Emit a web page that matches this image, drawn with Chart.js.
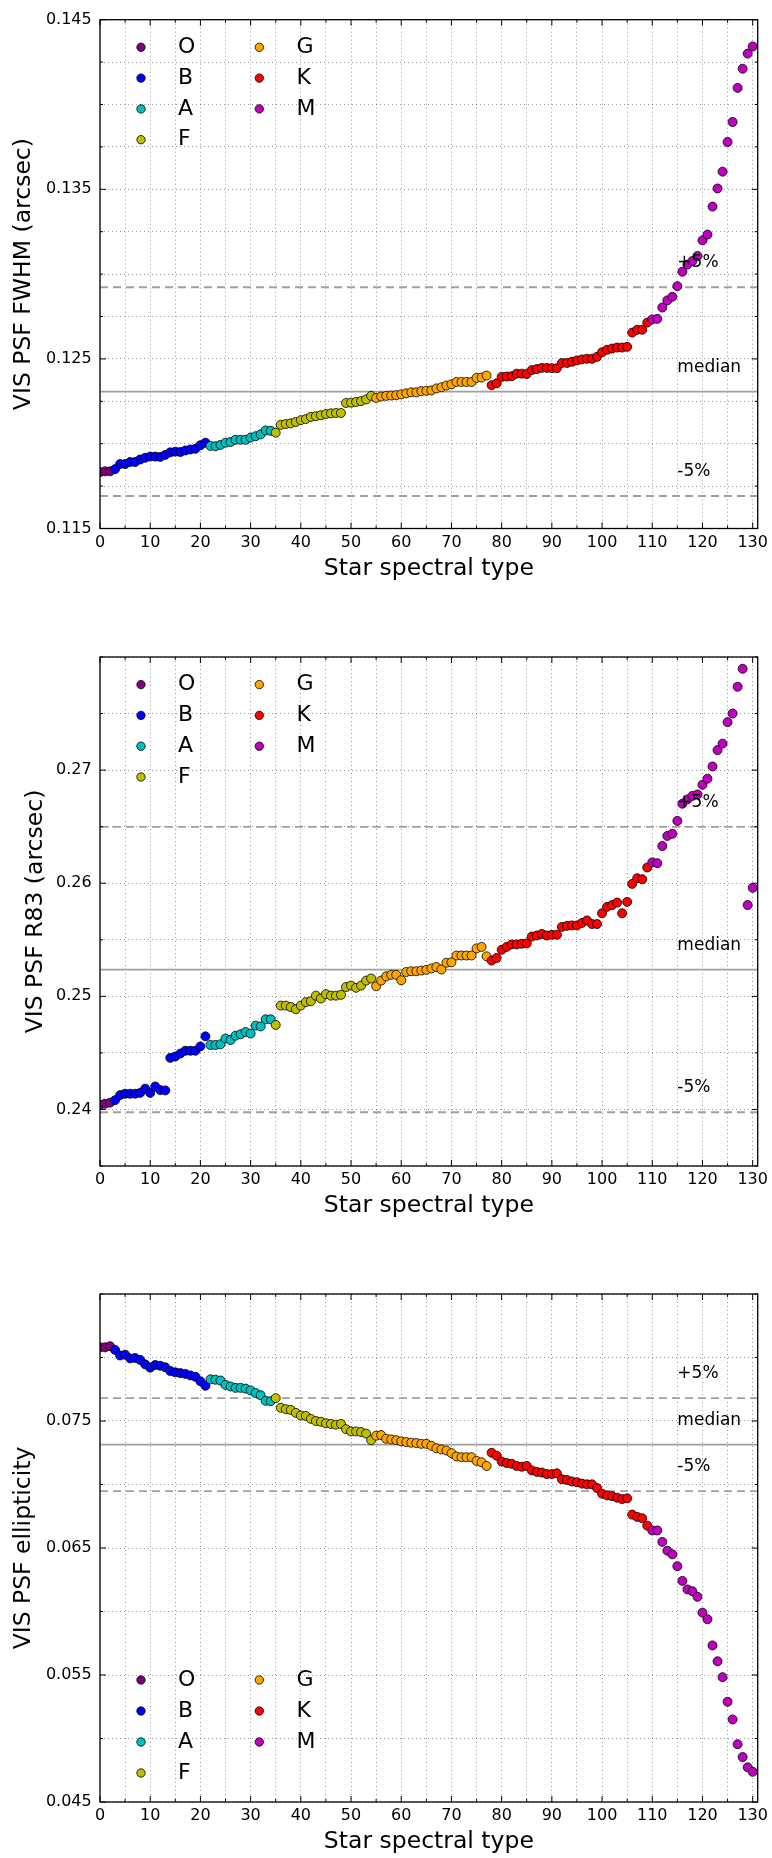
<!DOCTYPE html>
<html><head><meta charset="utf-8">
<script src="https://cdn.jsdelivr.net/npm/chart.js@4.4.1/dist/chart.umd.min.js"></script>
<style>
html,body{margin:0;padding:0;background:#fff;}
#wrap{position:relative;width:772px;height:1858px;background:#fff;}
canvas{position:absolute;left:0;}
</style></head><body>
<div id="wrap">
<canvas id="c1" width="772" height="620" style="top:0px;width:772px;height:620px"></canvas>
<canvas id="c2" width="772" height="620" style="top:620px;width:772px;height:620px"></canvas>
<canvas id="c3" width="772" height="618" style="top:1240px;width:772px;height:618px"></canvas>
</div>
<script>
// ---------- data ----------
const classNames = ['O','B','A','F','G','K','M'];
const classColors = ['#800080','#0000ff','#00bfbf','#bfbf00','#ffa500','#ff0000','#bf00bf'];
const classCounts = [3,19,13,20,23,32,21];
const xTickLabels = ['0','10','20','30','40','50','60','70','80','90','100','110','120','130'];
const xTitle = 'Star spectral type';
const lineLabels = ['+5%','median','-5%'];

const fwhm = [
 0.11833,0.11837,0.11837,
 0.11850,0.11880,0.11880,0.11892,0.11892,0.11907,0.11917,0.11924,0.11924,0.11922,0.11934,0.11949,0.11953,0.11951,0.11960,0.11966,0.11970,0.11991,0.12006,
 0.11987,0.11985,0.11993,0.12006,0.12010,0.12023,0.12023,0.12023,0.12036,0.12044,0.12055,0.12078,0.12076,
 0.12065,0.12111,0.12116,0.12120,0.12128,0.12139,0.12145,0.12158,0.12162,0.12168,0.12175,0.12179,0.12181,0.12181,0.12240,0.12242,0.12246,0.12251,0.12261,0.12282,
 0.12270,0.12278,0.12282,0.12284,0.12286,0.12291,0.12297,0.12303,0.12303,0.12310,0.12312,0.12314,0.12326,0.12333,0.12343,0.12350,0.12364,0.12364,0.12364,0.12364,0.12388,0.12390,0.12402,
 0.12345,0.12356,0.12394,0.12396,0.12398,0.12413,0.12413,0.12411,0.12434,0.12440,0.12447,0.12447,0.12445,0.12445,0.12476,0.12476,0.12483,0.12491,0.12497,0.12501,0.12501,0.12512,0.12539,0.12554,0.12561,0.12567,0.12567,0.12571,0.12655,0.12672,0.12672,0.12714,
 0.12733,0.12736,0.12803,0.12845,0.12866,0.12929,0.13014,0.13056,0.13077,0.13107,0.13199,0.13233,0.13398,0.13505,0.13604,0.13779,0.13897,0.14098,0.14211,0.14300,0.14342
];
const r83 = [
 0.24041,0.24051,0.24060,
 0.24082,0.24127,0.24139,0.24139,0.24139,0.24146,0.24184,0.24146,0.24203,0.24171,0.24168,0.24456,0.24468,0.24494,0.24519,0.24519,0.24519,0.24557,0.24646,
 0.24570,0.24570,0.24576,0.24627,0.24614,0.24652,0.24665,0.24684,0.24671,0.24741,0.24734,0.24797,0.24797,
 0.24747,0.24918,0.24918,0.24905,0.24886,0.24918,0.24949,0.24956,0.25006,0.24981,0.25019,0.25006,0.25006,0.25013,0.25082,0.25095,0.25076,0.25095,0.25139,0.25158,
 0.25089,0.25139,0.25177,0.25190,0.25190,0.25142,0.25215,0.25222,0.25222,0.25228,0.25234,0.25247,0.25259,0.25237,0.25297,0.25301,0.25361,0.25361,0.25361,0.25361,0.25424,0.25437,0.25354,
 0.25316,0.25339,0.25411,0.25437,0.25459,0.25459,0.25465,0.25468,0.25528,0.25538,0.25551,0.25538,0.25544,0.25544,0.25614,0.25623,0.25627,0.25627,0.25649,0.25671,0.25639,0.25639,0.25734,0.25791,0.25807,0.25829,0.25734,0.25835,0.25994,0.26044,0.26035,0.26139,
 0.26184,0.26177,0.26329,0.26418,0.26437,0.26551,0.26703,0.26741,0.26772,0.26785,0.26870,0.26924,0.27032,0.27177,0.27234,0.27424,0.27500,0.27737,0.27896,0.25807,0.25959
];
const ellip = [
 0.08080,0.08080,0.08089,
 0.08060,0.08016,0.08022,0.07993,0.07996,0.07981,0.07946,0.07920,0.07941,0.07935,0.07923,0.07894,0.07883,0.07877,0.07871,0.07859,0.07848,0.07813,0.07778,
 0.07828,0.07825,0.07819,0.07784,0.07772,0.07761,0.07761,0.07755,0.07741,0.07720,0.07703,0.07659,0.07656,
 0.07680,0.07604,0.07593,0.07587,0.07564,0.07543,0.07540,0.07517,0.07500,0.07494,0.07482,0.07477,0.07471,0.07477,0.07436,0.07418,0.07418,0.07413,0.07401,0.07349,
 0.07384,0.07389,0.07360,0.07355,0.07349,0.07340,0.07334,0.07329,0.07326,0.07320,0.07320,0.07305,0.07285,0.07276,0.07268,0.07247,0.07221,0.07215,0.07215,0.07215,0.07186,0.07175,0.07146,
 0.07250,0.07227,0.07181,0.07169,0.07163,0.07146,0.07140,0.07146,0.07111,0.07099,0.07094,0.07082,0.07082,0.07088,0.07041,0.07036,0.07024,0.07018,0.07007,0.07001,0.07001,0.06972,0.06928,0.06914,0.06908,0.06896,0.06885,0.06891,0.06763,0.06745,0.06734,0.06676,
 0.06638,0.06638,0.06548,0.06479,0.06450,0.06357,0.06241,0.06174,0.06159,0.06116,0.05991,0.05939,0.05733,0.05608,0.05483,0.05289,0.05150,0.04955,0.04854,0.04773,0.04738
];
const medianFwhm = 0.12307;
const medianR83 = 0.25237;
const medianEllip = 0.07314;
const yLabelsFwhm = ['0.115','0.125','0.135','0.145'];
const yLabelsR83 = ['0.24','0.25','0.26','0.27'];
const yLabelsEllip = ['0.045','0.055','0.065','0.075'];
const yTitles = ['VIS PSF FWHM (arcsec)','VIS PSF R83 (arcsec)','VIS PSF ellipticity'];

// ---------- drawing ----------
const FONT = '"DejaVu Sans", "Liberation Sans", sans-serif';
const deco = {
  id: 'deco',
  afterDatasetsDraw(chart, args, o) {
    const {ctx, chartArea: a, scales: {x, y}} = chart;
    ctx.save();
    // reference line labels
    ctx.font = '17px ' + FONT;
    ctx.fillStyle = '#000';
    ctx.textAlign = 'left';
    ctx.textBaseline = 'alphabetic';
    [1.05, 1, 0.95].forEach((f, j) => {
      ctx.fillText(lineLabels[j], x.getPixelForValue(o.labelX), y.getPixelForValue(o.median * f) - 20);
    });
    // inward ticks on all four sides
    ctx.strokeStyle = '#000';
    ctx.lineWidth = 1;
    ctx.beginPath();
    x.ticks.forEach(t => {
      const px = x.getPixelForValue(t.value);
      const len = t.label ? 6 : 3;
      ctx.moveTo(px, a.bottom); ctx.lineTo(px, a.bottom - len);
      ctx.moveTo(px, a.top); ctx.lineTo(px, a.top + len);
    });
    y.ticks.forEach(t => {
      const py = y.getPixelForValue(t.value);
      const len = t.label ? 6 : 3;
      ctx.moveTo(a.left, py); ctx.lineTo(a.left + len, py);
      ctx.moveTo(a.right, py); ctx.lineTo(a.right - len, py);
    });
    ctx.stroke();
    // frame
    ctx.lineWidth = 1.3;
    ctx.strokeRect(a.left, a.top, a.right - a.left, a.bottom - a.top);
    // legend (two columns)
    ctx.font = '22px ' + FONT;
    ctx.textBaseline = 'middle';
    classNames.forEach((name, k) => {
      const col = k < 4 ? 0 : 1;
      const row = k < 4 ? k : k - 4;
      const mx = col ? 259.3 : 141;
      const tx = col ? 296.5 : 178;
      const yy = o.legend === 'top' ? a.top + 27.6 + 30.8 * row : a.bottom - 29 - 31 * (3 - row);
      ctx.beginPath();
      ctx.arc(mx, yy, 4.2, 0, Math.PI * 2);
      ctx.fillStyle = classColors[k];
      ctx.fill();
      ctx.lineWidth = 0.8;
      ctx.strokeStyle = '#000';
      ctx.stroke();
      ctx.fillStyle = '#000';
      ctx.fillText(name, tx, yy);
    });
    ctx.restore();
  }
};

function makeChart(id, values, median, yLabels, yTitle, cfg) {
  const datasets = [];
  let start = 0;
  classNames.forEach((name, k) => {
    const pts = [];
    for (let j = 0; j < classCounts[k]; j++) pts.push({x: start + j, y: values[start + j]});
    start += classCounts[k];
    datasets.push({label: name, data: pts, backgroundColor: classColors[k], borderColor: '#000',
      borderWidth: 0.8, pointRadius: 4.5, pointHoverRadius: 4.5, order: 10 - k, clip: 0});
  });
  [1.05, 1, 0.95].forEach((f, j) => {
    datasets.push({label: lineLabels[j], data: [{x: 0, y: median * f}, {x: 131, y: median * f}],
      showLine: true, borderColor: '#a0a0a0', borderWidth: 1.8, borderDash: f === 1 ? [] : [8, 5],
      pointRadius: 0, pointHoverRadius: 0, order: 30, clip: 0});
  });
  const matchLabel = (list, v) => list.find(l => Math.abs(parseFloat(l) - v) < 1e-7) || '';
  const gridOpts = {color: 'rgba(0,0,0,0.4)', lineWidth: 1, drawTicks: false, tickLength: 0, borderDash: [1, 3]};
  const borderOpts = {display: false, dash: [1, 3]};
  const xH = 54.1;
  const canvasH = document.getElementById(id).height;
  return new Chart(document.getElementById(id), {
    type: 'scatter',
    data: {datasets},
    options: {
      responsive: false, animation: false, devicePixelRatio: 1,
      events: [],
      layout: {padding: {left: 0, right: 14.3, top: cfg.top, bottom: canvasH - cfg.bottom - xH}},
      plugins: {legend: {display: false}, tooltip: {enabled: false},
        deco: {median, labelX: 115, legend: cfg.legend}},
      scales: {
        x: {type: 'linear', min: 0, max: 131,
          afterFit(s) { s.height = xH; s.paddingLeft = 0; s.paddingRight = 0; },
          ticks: {stepSize: 5, autoSkip: false, maxRotation: 0, minRotation: 0, includeBounds: false, maxTicksLimit: 1000,
            padding: 4.7, font: {family: FONT, size: 16}, color: '#000',
            callback: v => matchLabel(xTickLabels, v)},
          grid: gridOpts, border: borderOpts,
          title: {display: true, text: xTitle, font: {family: FONT, size: 23.5}, color: '#000', padding: {top: 0, bottom: 0}}
        },
        y: {type: 'linear', min: cfg.min, max: cfg.max,
          afterFit(s) { s.width = 100; s.paddingTop = 0; s.paddingBottom = 0; },
          ticks: {stepSize: cfg.step, autoSkip: false, includeBounds: false, maxTicksLimit: 1000,
            padding: 8.3, font: {family: FONT, size: 16}, color: '#000',
            callback: v => matchLabel(yLabels, v)},
          grid: gridOpts, border: borderOpts,
          title: {display: true, text: yTitle, font: {family: FONT, size: 23.5}, color: '#000', padding: {top: cfg.titlePad, bottom: 0}}
        }
      }
    },
    plugins: [deco]
  });
}

makeChart('c1', fwhm, medianFwhm, yLabelsFwhm, yTitles[0],
  {min: 0.115, max: 0.145, step: 0.0025, top: 19.7, bottom: 528.5, titlePad: 9.9, legend: 'top'});
makeChart('c2', r83, medianR83, yLabelsR83, yTitles[1],
  {min: 0.235, max: 0.28, step: 0.005, top: 37, bottom: 546, titlePad: 21.4, legend: 'top'});
makeChart('c3', ellip, medianEllip, yLabelsEllip, yTitles[2],
  {min: 0.045, max: 0.085, step: 0.005, top: 54, bottom: 562, titlePad: 9.9, legend: 'bottom'});
</script>
</body></html>
